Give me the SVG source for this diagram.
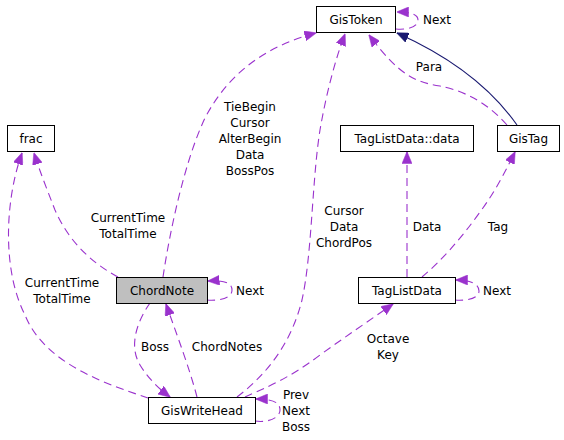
<svg xmlns="http://www.w3.org/2000/svg" width="564" height="440" viewBox="0 0 564 440">
<style>
.node rect{fill:#ffffff;stroke:#000000;stroke-width:1}
.node.sel rect{fill:#bfbfbf}
text{font-family:"DejaVu Sans","Liberation Sans",sans-serif;font-size:12px;fill:#000000;text-anchor:middle}
.e{fill:none;stroke:#9a32cd;stroke-width:1.1;stroke-dasharray:8,5;marker-end:url(#ap)}
.s{fill:none;stroke:#191970;stroke-width:1.1;marker-end:url(#an)}
</style>
<defs>
<marker id="ap" markerUnits="userSpaceOnUse" viewBox="0 0 12 10" refX="11.5" refY="5" markerWidth="12" markerHeight="10" orient="auto">
<path d="M0,0 L12,5 L0,10 z" fill="#9a32cd" stroke="#9a32cd" stroke-width="0.5"/>
</marker>
<marker id="an" markerUnits="userSpaceOnUse" viewBox="0 0 12 10" refX="11.5" refY="5" markerWidth="12" markerHeight="10" orient="auto">
<path d="M0,0 L12,5 L0,10 z" fill="#191970" stroke="#191970" stroke-width="0.5"/>
</marker>
</defs>
<rect width="564" height="440" fill="#ffffff"/>
<g id="edges">
<path class="e" d="M396,29 C408,30 418,27 418,20 C418,14 410,12 397,12"/>
<path class="s" d="M517,125 C498,98 462,62 397,33"/>
<path class="e" d="M507,125 C485,100 460,90 440,86 C415,82 400,76 369,35"/>
<path class="e" d="M163,277 C170,230 185,160 205,118 C230,70 270,45 316,33"/>
<path class="e" d="M237,397 C270,372 292,340 302,300 C312,255 312,180 320,130 C326,95 335,60 345,34"/>
<path class="e" d="M118,277 C90,262 68,240 55,210 C48,192 40,172 34,153"/>
<path class="e" d="M148,398 C110,385 45,365 25,315 C2,270 5,200 22,153"/>
<path class="e" d="M207,300 C220,301 232,298 232,290 C232,283 225,280 208,281"/>
<path class="e" d="M150,303 C138,320 128,345 140,365 C148,378 158,388 170,397"/>
<path class="e" d="M197,397 C190,370 178,338 166,304"/>
<path class="e" d="M245,397 C265,388 290,378 320,355 C345,337 370,320 393,304"/>
<path class="e" d="M255,421 C268,423 280,418 280,410 C280,402 272,399 256,399"/>
<path class="e" d="M407,277 L407,152"/>
<path class="e" d="M422,277 C440,262 460,240 480,212 C495,192 505,172 515,152"/>
<path class="e" d="M455,300 C468,301 479,298 479,291 C479,284 471,280 456,280"/>
</g>
<g id="edge-labels">
<text x="437" y="24">Next</text>
<text x="429" y="71">Para</text>
<text x="250" y="111">TieBegin</text>
<text x="250" y="127">Cursor</text>
<text x="250" y="143">AlterBegin</text>
<text x="250" y="159">Data</text>
<text x="250" y="175">BossPos</text>
<text x="344" y="215">Cursor</text>
<text x="344" y="231">Data</text>
<text x="344" y="247">ChordPos</text>
<text x="427" y="231">Data</text>
<text x="498" y="231">Tag</text>
<text x="128" y="222">CurrentTime</text>
<text x="128" y="238">TotalTime</text>
<text x="62" y="287">CurrentTime</text>
<text x="62" y="303">TotalTime</text>
<text x="250" y="295">Next</text>
<text x="497" y="295">Next</text>
<text x="155" y="351">Boss</text>
<text x="227" y="351">ChordNotes</text>
<text x="388" y="343">Octave</text>
<text x="388" y="359">Key</text>
<text x="296" y="399">Prev</text>
<text x="296" y="415">Next</text>
<text x="296" y="431">Boss</text>
</g>
<g id="GisToken" class="node"><rect x="316.5" y="6.5" width="79" height="26"/><text x="356" y="24">GisToken</text></g>
<g id="TagListData_data" class="node"><rect x="340.5" y="125.5" width="133" height="26"/><text x="407" y="143">TagListData::data</text></g>
<g id="GisTag" class="node"><rect x="497.5" y="125.5" width="62" height="26"/><text x="528.5" y="143">GisTag</text></g>
<g id="frac" class="node"><rect x="7.5" y="125.5" width="47" height="26"/><text x="31" y="143">frac</text></g>
<g id="ChordNote" class="node sel"><rect x="116.5" y="277.5" width="91" height="26"/><text x="162" y="295">ChordNote</text></g>
<g id="GisWriteHead" class="node"><rect x="148.5" y="397.5" width="107" height="26"/><text x="202" y="415">GisWriteHead</text></g>
<g id="TagListData" class="node"><rect x="358.5" y="277.5" width="97" height="26"/><text x="407" y="295">TagListData</text></g>
</svg>
